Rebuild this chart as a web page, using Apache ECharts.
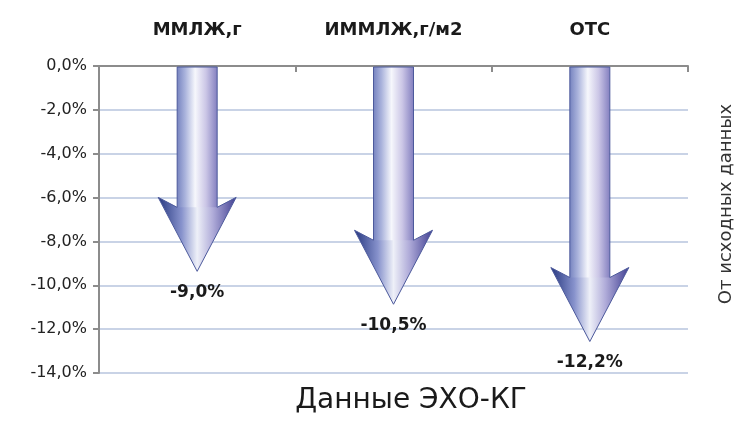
<!DOCTYPE html>
<html>
<head>
<meta charset="utf-8">
<script src="https://cdn.jsdelivr.net/npm/echarts@6/dist/echarts.min.js"></script>
<style>
  html, body { margin: 0; padding: 0; background: #ffffff; }
  #chart { width: 734px; height: 423px; }
</style>
</head>
<body>
<div id="chart"></div>
<script>
// Echo-CG indicators and their change from baseline, percent
const categories = ['ММЛЖ,г', 'ИММЛЖ,г/м2', 'ОТС'];
const changes = [-9.0, -10.5, -12.2];
const yTicks = [0, -2, -4, -6, -8, -10, -12, -14];
const chartTitle = 'Данные ЭХО-КГ';
const sideNote = 'От исходных данных';

const fmtPct = v => v.toFixed(1).replace('.', ',') + '%';

const shaftFill = new echarts.graphic.LinearGradient(0, 0, 1, 0, [
  { offset: 0, color: '#7784c0' },
  { offset: 0.2, color: '#aab3dc' },
  { offset: 0.45, color: '#f6f7fc' },
  { offset: 0.72, color: '#cbc6e6' },
  { offset: 1, color: '#8480c0' }
]);
const headFill = new echarts.graphic.LinearGradient(0, 0, 1, 0, [
  { offset: 0, color: '#273880' },
  { offset: 0.3, color: '#8792cc' },
  { offset: 0.5, color: '#eef0f8' },
  { offset: 0.7, color: '#b0acd9' },
  { offset: 1, color: '#424093' }
]);

// Down-arrow mark: shaft from zero to the value, arrowhead ending at the value
function renderArrow(params, api) {
  const idx = api.value(0);
  const v = api.value(1);
  const top = api.coord([idx, 0]);
  const end = api.coord([idx, v]);
  const cx = top[0];
  const y0 = top[1] + 1;
  const tipY = end[1] + 8;
  const wingY = tipY - 74;
  const joinY = tipY - 64;
  const sh = 20;
  const hh = 39;
  const outline = [
    [cx - sh, y0], [cx - sh, joinY], [cx - hh, wingY], [cx, tipY],
    [cx + hh, wingY], [cx + sh, joinY], [cx + sh, y0]
  ];
  return {
    type: 'group',
    children: [
      {
        type: 'rect',
        shape: { x: cx - sh, y: y0, width: sh * 2, height: joinY - y0 + 1 },
        style: { fill: shaftFill }
      },
      {
        type: 'polygon',
        shape: {
          points: [[cx - sh, joinY], [cx - hh, wingY], [cx, tipY], [cx + hh, wingY], [cx + sh, joinY]]
        },
        style: { fill: headFill }
      },
      {
        type: 'polygon',
        shape: { points: outline },
        style: { fill: null, stroke: '#4d5a9c', lineWidth: 1 }
      },
      {
        type: 'text',
        x: cx,
        y: tipY + 21,
        style: {
          text: fmtPct(v),
          align: 'center',
          verticalAlign: 'middle',
          font: 'bold 17px "DejaVu Sans"',
          fill: '#1a1a1a'
        }
      }
    ]
  };
}

const chart = echarts.init(document.getElementById('chart'), null, { renderer: 'canvas' });

chart.setOption({
  animation: false,
  backgroundColor: '#ffffff',
  grid: { left: 99, right: 46, top: 66, bottom: 50 },
  xAxis: {
    type: 'category',
    position: 'top',
    data: categories,
    boundaryGap: true,
    axisLine: { show: true, lineStyle: { color: '#8c8c8c', width: 2 } },
    axisTick: { show: true, inside: true, length: 6, lineStyle: { color: '#8c8c8c', width: 2 } },
    axisLabel: {
      margin: 27,
      fontFamily: 'DejaVu Sans',
      fontWeight: 'bold',
      fontSize: 18,
      color: '#1a1a1a'
    },
    splitLine: { show: false }
  },
  yAxis: {
    type: 'value',
    min: yTicks[yTicks.length - 1],
    max: yTicks[0],
    interval: 2,
    axisLine: { show: true, lineStyle: { color: '#8c8c8c', width: 2 } },
    axisTick: { show: true, length: 6, lineStyle: { color: '#8c8c8c', width: 2 } },
    axisLabel: {
      margin: 12,
      formatter: v => fmtPct(v),
      fontFamily: 'DejaVu Sans',
      fontSize: 16,
      color: '#222222'
    },
    splitLine: { show: true, lineStyle: { color: '#c9d3e6', width: 2 } }
  },
  series: [{
    type: 'custom',
    renderItem: renderArrow,
    clip: false,
    z: 1,
    encode: { x: 0, y: 1 },
    data: changes.map((v, i) => [i, v])
  }],
  graphic: [
    {
      type: 'text',
      x: 411,
      y: 401,
      style: {
        text: chartTitle,
        align: 'center',
        verticalAlign: 'middle',
        font: '28px "DejaVu Sans"',
        fill: '#1a1a1a'
      }
    },
    {
      type: 'text',
      x: 726,
      y: 204,
      rotation: Math.PI / 2,
      style: {
        text: sideNote,
        align: 'center',
        verticalAlign: 'middle',
        font: '18px "DejaVu Sans"',
        fill: '#333333'
      }
    }
  ]
});
</script>
</body>
</html>
